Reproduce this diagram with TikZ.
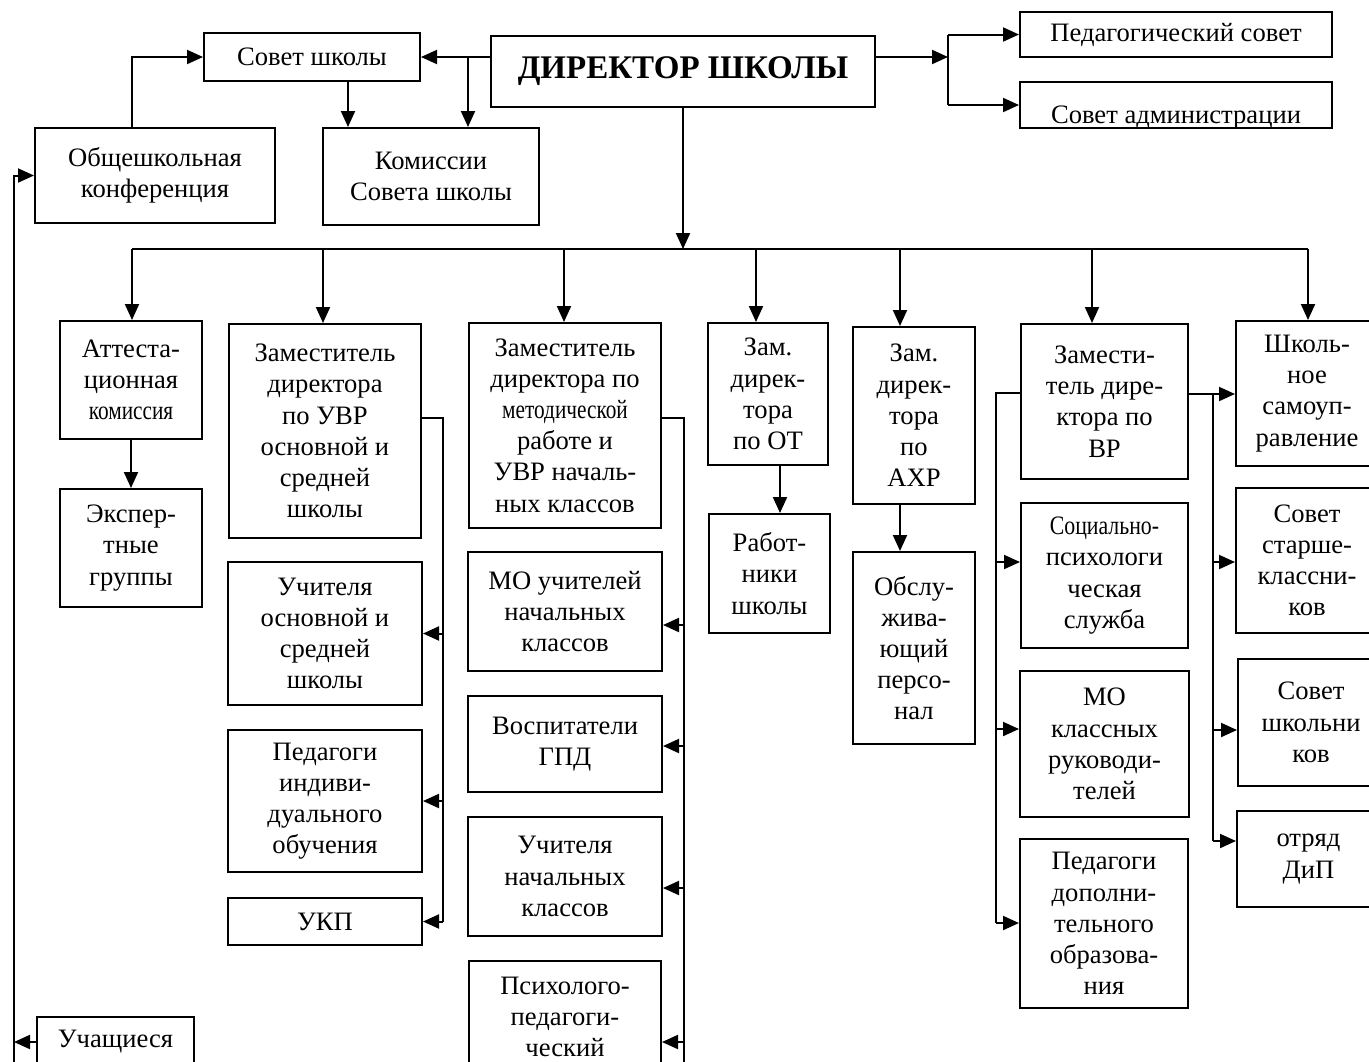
\documentclass[tikz,border=0pt]{standalone}
\usepackage{fontspec}
\usepackage{graphicx}
\setmainfont{Liberation Serif}
\usetikzlibrary{arrows.meta}
\newcommand\mybox[6]{\node[box,minimum width={(#4-#2)*0.5pt},minimum height={(#5-#3)*0.5pt}] (#1) at ({(#2+#4)/2},{(#3+#5)/2}) {#6};}
\begin{document}
\begin{tikzpicture}[x=0.5pt,y=-0.5pt,
  box/.style={draw,line width=1pt,align=center,inner sep=0pt,font=\fontsize{13.3}{15.6}\selectfont},
  arr/.style={line width=1pt,-{Triangle[length=8pt,width=7pt]}},
  ln/.style={line width=1pt}]
\clip (0,0) rectangle (1369,1061);
\fill[white] (0,0) rectangle (1369,1061);
% top row
\mybox{sovet}{204}{33}{420}{81}{Совет школы}
\mybox{dir}{491}{36}{875}{107}{\fontsize{16.5}{20}\selectfont\bfseries ДИРЕКТОР ШКОЛЫ}
\mybox{ped}{1020}{12}{1332}{57}{Педагогический совет}
\mybox{adm}{1020}{82}{1332}{128}{}
\begin{scope}
\clip (adm.north west) rectangle (adm.south east);
\node[font=\fontsize{13.3}{15.6}\selectfont,anchor=base,inner sep=0pt] (admt) at (1176,123) {Совет администрации};
\end{scope}
\mybox{obsh}{35}{128}{275}{223}{Общешкольная\\конференция}
\mybox{kom}{323}{128}{539}{225}{Комиссии\\Совета школы}
% columns
\mybox{att}{60}{321}{202}{439}{Аттеста-\\ционная\\\scalebox{0.8}[1]{комиссия}}
\mybox{exp}{60}{489}{202}{607}{Экспер-\\тные\\группы}
\mybox{zuvr}{229}{324}{421}{538}{Заместитель\\директора\\по УВР\\основной и\\средней\\школы}
\mybox{uo}{228}{562}{422}{705}{Учителя\\основной и\\средней\\школы}
\mybox{pin}{228}{730}{422}{872}{Педагоги\\индиви-\\дуального\\обучения}
\mybox{ukp}{228}{898}{422}{945}{УКП}
\mybox{zmet}{469}{323}{661}{528}{Заместитель\\директора по\\\scalebox{0.8}[1]{методической}\\работе и\\УВР началь-\\ных классов}
\mybox{mon}{468}{552}{662}{671}{МО учителей\\начальных\\классов}
\mybox{vos}{468}{696}{662}{792}{Воспитатели\\ГПД}
\mybox{uchn}{468}{817}{662}{936}{Учителя\\начальных\\классов}
\mybox{psy}{469}{961}{661}{1073}{Психолого-\\педагоги-\\ческий}
\mybox{uch}{37}{1017}{194}{1067}{Учащиеся}
\mybox{zot}{708}{323}{828}{465}{Зам.\\дирек-\\тора\\по ОТ}
\mybox{rab}{709}{514}{830}{633}{Работ-\\ники\\школы}
\mybox{zaxr}{853}{327}{975}{504}{Зам.\\дирек-\\тора\\по\\АХР}
\mybox{obs}{853}{552}{975}{744}{Обслу-\\жива-\\ющий\\персо-\\нал}
\mybox{zvr}{1021}{324}{1188}{479}{Замести-\\тель дире-\\ктора по\\ВР}
\mybox{soc}{1021}{503}{1188}{648}{\scalebox{0.82}[1]{Социально-}\\психологи\\ческая\\служба}
\mybox{mok}{1020}{671}{1189}{817}{МО\\классных\\руководи-\\телей}
\mybox{pdo}{1020}{839}{1188}{1008}{Педагоги\\дополни-\\тельного\\образова-\\ния}
\mybox{shk}{1236}{321}{1378}{466}{Школь-\\ное\\самоуп-\\равление}
\mybox{sst}{1236}{488}{1378}{633}{Совет\\старше-\\классни-\\ков}
\mybox{ssh}{1238}{659}{1384}{786}{Совет\\школьни\\ков}
\mybox{otr}{1237}{811}{1380}{907}{отряд\\ДиП}
% top connectors
\coordinate (j1) at (468,57);
\draw[arr] (dir.west |- sovet.east) -- (sovet.east);
\draw[arr] (j1) -- (j1 |- kom.north);
\coordinate (c348) at (348,0);
\draw[arr] (sovet.south -| c348) -- (kom.north -| c348);
\coordinate (c132) at (132,0);
\draw[arr] (obsh.north -| c132) |- (sovet.west);
\coordinate (lb) at (14,1075);
\draw[arr] (lb) |- (obsh.west);
\draw[arr] (uch.west) -- (uch.west -| lb);
\coordinate (j2) at (948,57);
\draw[arr] (dir.east |- j2) -- (j2);
\draw[ln] (j2 |- ped.west) -- (j2 |- adm.west);
\draw[arr] (j2 |- ped.west) -- (ped.west);
\draw[arr] (j2 |- adm.west) -- (adm.west);
% distribution line
\coordinate (hl) at (683,249);
\coordinate (hL) at (132,249);
\coordinate (hR) at (1308,249);
\draw[arr] (dir.south) -- (hl);
\draw[ln] (hL) -- (hR);
\foreach \xx/\nn in {132/att,323/zuvr,564/zmet,756/zot,900/zaxr,1092/zvr,1308/shk}{
  \coordinate (d\nn) at (\xx,249);
  \draw[arr] (d\nn) -- (d\nn |- \nn.north);
}
\draw[arr] (att.south) -- (exp.north);
\coordinate (c780) at (780,0);
\draw[arr] (zot.south -| c780) -- (rab.north -| c780);
\coordinate (c900) at (900,0);
\draw[arr] (zaxr.south -| c900) -- (obs.north -| c900);
% UVR branch
\coordinate (v1) at (443,418);
\draw[ln] (zuvr.east |- v1) -- (v1) -- (v1 |- ukp.east);
\foreach \nn in {uo,pin,ukp}{\draw[arr] (v1 |- \nn.east) -- (\nn.east);}
% methodical branch
\coordinate (v2) at (684,418);
\coordinate (v2b) at (684,1075);
\draw[ln] (zmet.east |- v2) -- (v2) -- (v2b);
\foreach \yy/\nn in {625/mon,746/vos,888/uchn,1042/psy}{
  \coordinate (a\nn) at (684,\yy);
  \draw[arr] (a\nn) -- (a\nn -| \nn.east);
}
% VR left branch
\coordinate (v3) at (996,393);
\coordinate (v3b) at (996,923);
\draw[ln] (zvr.west |- v3) -- (v3) -- (v3b);
\foreach \yy/\nn in {562/soc,729/mok,923/pdo}{
  \coordinate (b\nn) at (996,\yy);
  \draw[arr] (b\nn) -- (b\nn -| \nn.west);
}
% VR right branch
\coordinate (v4) at (1213,394);
\coordinate (v4b) at (1213,841);
\draw[arr] (zvr.east |- v4) -- (v4 -| shk.west);
\draw[ln] (v4) -- (v4b);
\foreach \yy/\nn in {562/sst,730/ssh,841/otr}{
  \coordinate (e\nn) at (1213,\yy);
  \draw[arr] (e\nn) -- (e\nn -| \nn.west);
}
\end{tikzpicture}
\end{document}
